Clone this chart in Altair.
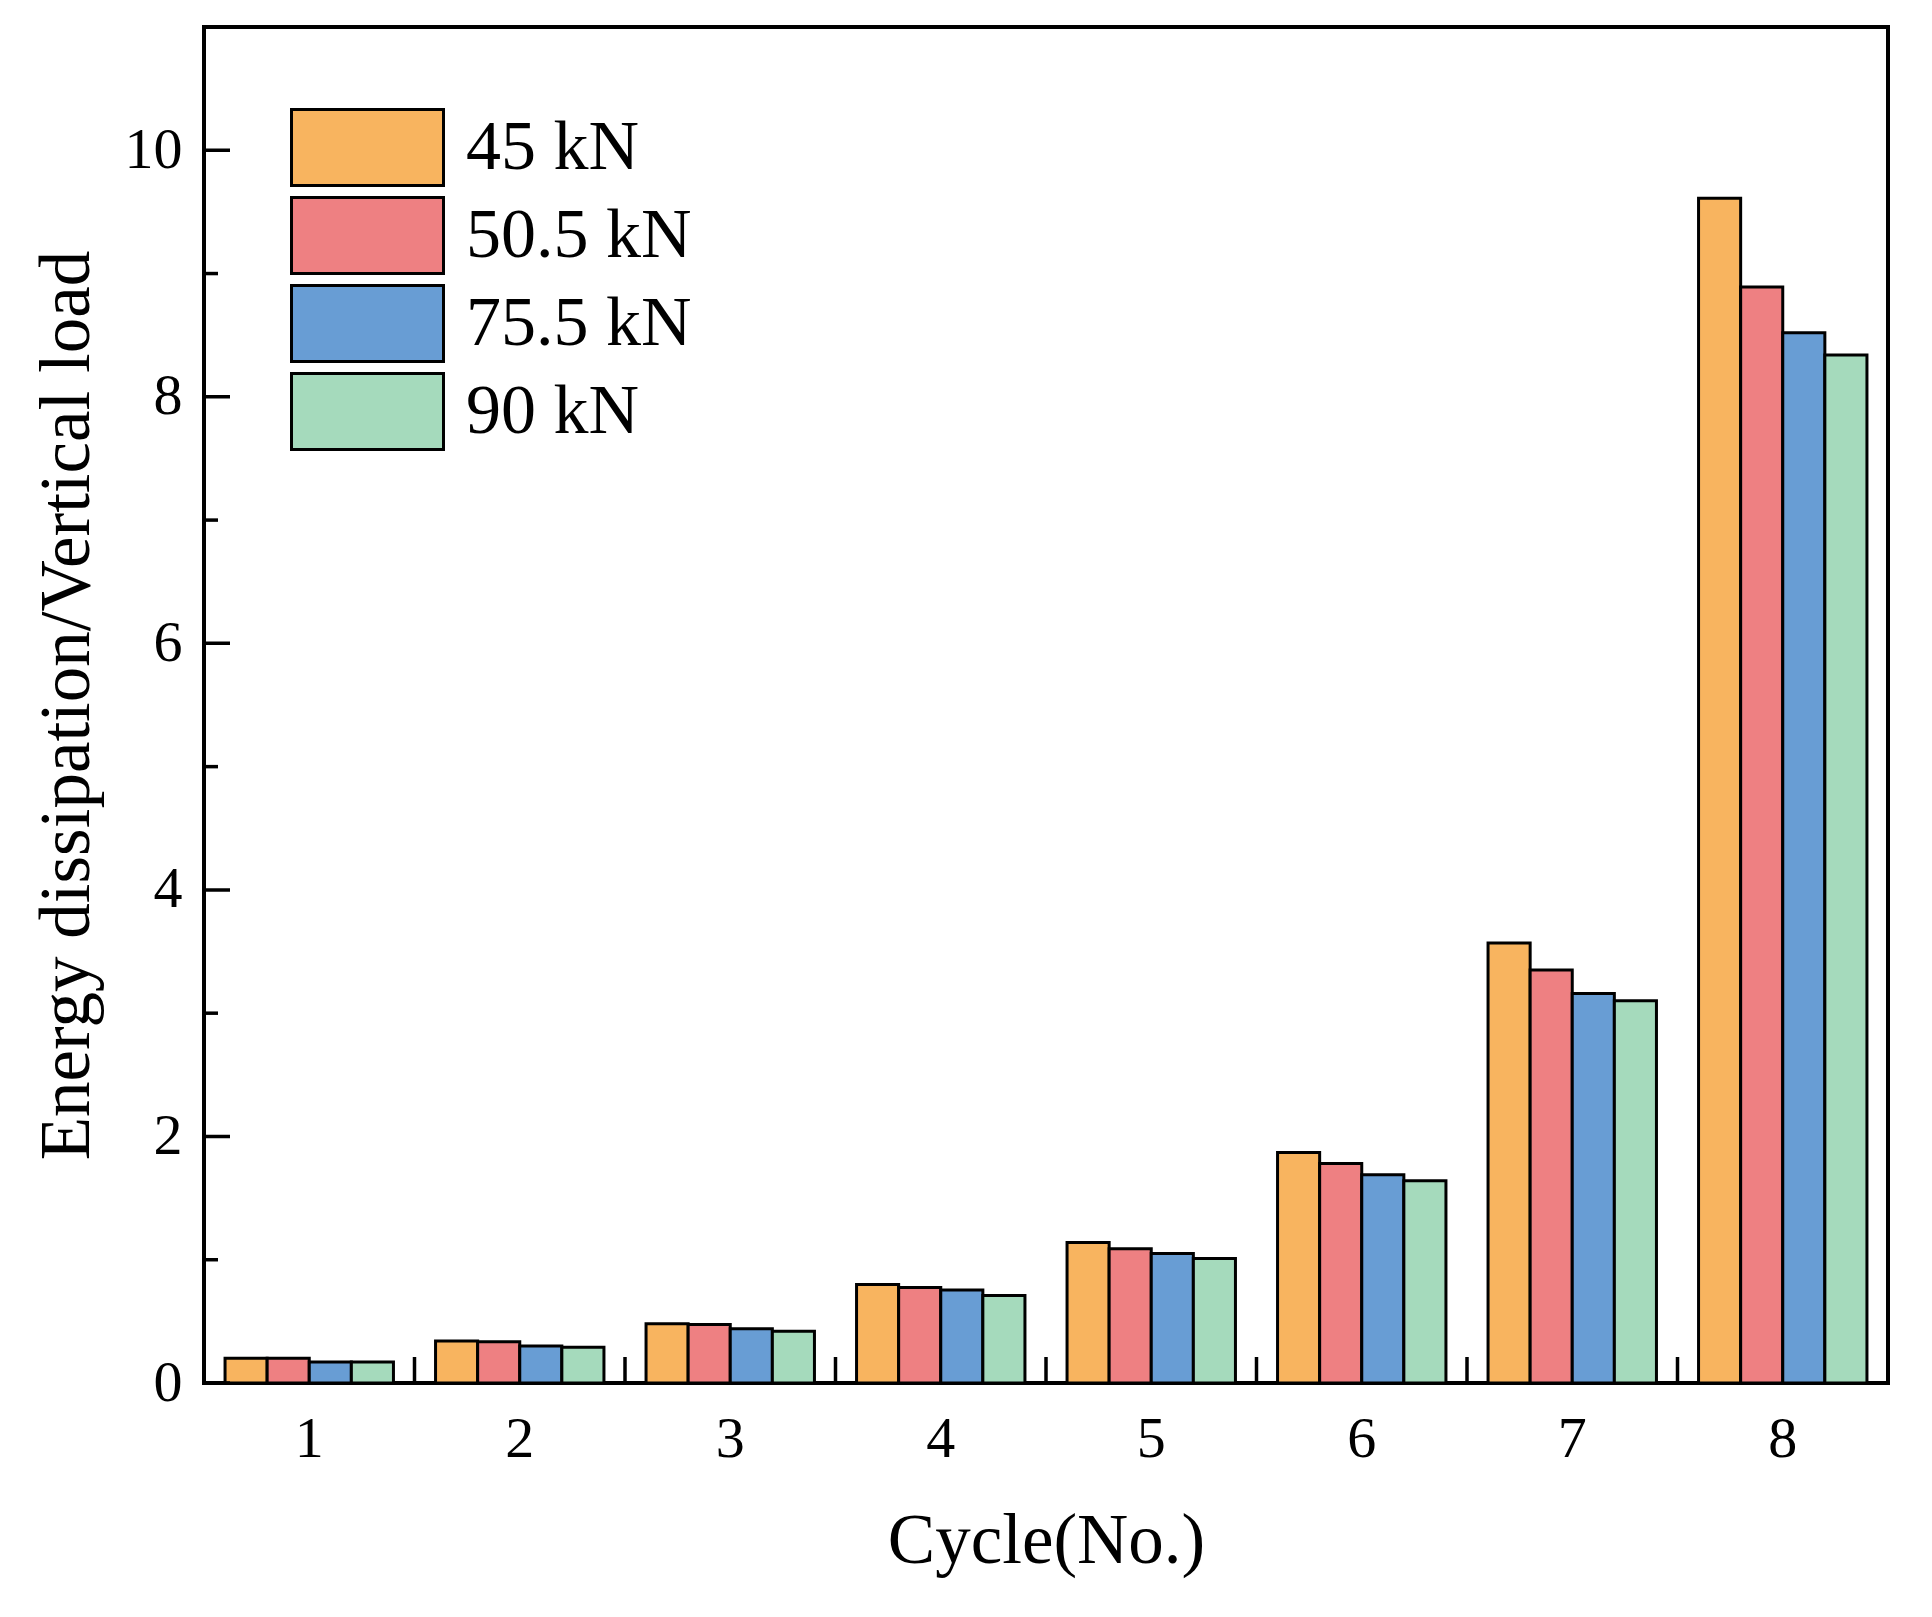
import altair as alt
import pandas as pd

cycles = [1, 2, 3, 4, 5, 6, 7, 8]
loads = ["45 kN", "50.5 kN", "75.5 kN", "90 kN"]
colors = ["#F8B45F", "#EE8082", "#689DD4", "#A5DABC"]

ratio_45 = [0.20, 0.34, 0.48, 0.80, 1.14, 1.87, 3.57, 9.61]
ratio_50 = [0.20, 0.335, 0.475, 0.775, 1.09, 1.78, 3.35, 8.89]
ratio_75 = [0.17, 0.30, 0.44, 0.755, 1.05, 1.69, 3.16, 8.52]
ratio_90 = [0.17, 0.29, 0.42, 0.71, 1.01, 1.64, 3.10, 8.34]

major_ticks = [0, 2, 4, 6, 8, 10]
all_ticks = [0, 1, 2, 3, 4, 5, 6, 7, 8, 9, 10]
group_edges = [2, 3, 4, 5, 6, 7, 8]

W, H = 1684, 1356
FONT = "Liberation Serif"

rows = []
for load, series in zip(loads, [ratio_45, ratio_50, ratio_75, ratio_90]):
    for c, v in zip(cycles, series):
        rows.append({"cycle": c, "load": load, "value": v})
df = pd.DataFrame(rows)

x_scale = alt.Scale(domain=cycles, paddingInner=0, paddingOuter=0)
y_scale = alt.Scale(domain=[0, 11], nice=False)

x_axis = alt.Axis(
    title="Cycle(No.)",
    labelAngle=0,
    ticks=False,
    domain=False,
    labelPadding=27,
    titlePadding=38,
)
y_axis = alt.Axis(
    title="Energy dissipation/Vertical load",
    values=[0, 2, 4, 6, 8, 10],
    ticks=False,
    domain=False,
    grid=False,
    labelPadding=22,
    titlePadding=21,
)

bars = (
    alt.Chart(df)
    .mark_bar(stroke="black", strokeWidth=3, opacity=1)
    .encode(
        x=alt.X("cycle:O", scale=x_scale, axis=x_axis),
        xOffset=alt.XOffset(
            "load:N", sort=loads, scale=alt.Scale(paddingOuter=0.5, paddingInner=0)
        ),
        y=alt.Y("value:Q", scale=y_scale, axis=y_axis),
        color=alt.Color(
            "load:N",
            sort=loads,
            scale=alt.Scale(domain=loads, range=colors),
            legend=alt.Legend(
                title=None,
                orient="none",
                legendX=87,
                legendY=81,
                padding=0,
                symbolType="M-2,-1H2V1H-2Z",
                symbolSize=5776,
                symbolStrokeColor="black",
                symbolStrokeWidth=3,
                symbolOpacity=1,
                symbolOffset=37,
                labelOffset=59,
                labelLimit=600,
                labelFont=FONT,
                labelFontSize=70,
                labelColor="black",
                rowPadding=-1,
            ),
        ),
    )
)

# ticks between the cycle groups, pointing into the plot
x_ticks = (
    alt.Chart(pd.DataFrame({"edge": group_edges}))
    .mark_rule(color="black", strokeWidth=3.5)
    .encode(
        x=alt.X("edge:O", scale=x_scale, bandPosition=0, axis=x_axis),
        y=alt.value(H),
        y2=alt.value(H - 26),
    )
)

# inward y ticks: centred on the frame and clipped, long on even values
y_ticks = (
    alt.Chart(pd.DataFrame({"tick": all_ticks}))
    .transform_calculate(span="datum.tick % 2 == 0 ? 52 : 28")
    .mark_tick(color="black", thickness=3.5, opacity=1, clip=True)
    .encode(
        y=alt.Y("tick:Q", scale=y_scale, axis=y_axis),
        x=alt.value(0),
        size=alt.Size("span:Q", scale=None, legend=None),
    )
)

chart = (
    alt.layer(bars, y_ticks, x_ticks)
    .properties(
        width=W,
        height=H,
        autosize=alt.AutoSizeParams(type="none"),
        padding={"left": 196, "top": 19, "right": 36, "bottom": 226},
        background="white",
    )
    .configure_view(stroke="black", strokeWidth=4)
    .configure_axis(
        labelFont=FONT,
        labelFontSize=58,
        labelColor="black",
        titleFont=FONT,
        titleFontSize=71,
        titleFontWeight="normal",
        titleColor="black",
    )
)

chart.save("out.html", embed_options={"renderer": "svg", "actions": False})
